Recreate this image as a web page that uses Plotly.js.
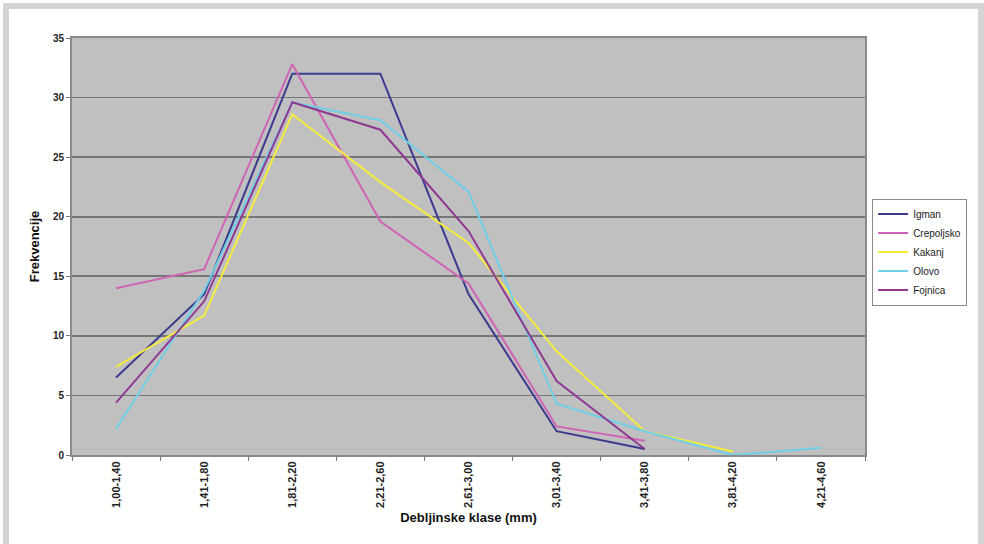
<!DOCTYPE html>
<html>
<head>
<meta charset="utf-8">
<script src="https://cdn.plot.ly/plotly-3.0.1.min.js"></script>
<style>
  html, body { margin: 0; padding: 0; background: #ffffff; }
  #frame { position: absolute; left: 3px; top: 3px; width: 969px; height: 541px;
           border-top: 6px solid #d4d4d4; border-left: 6px solid #d4d4d4; border-right: 6px solid #d4d4d4; }
  #chart { position: absolute; left: 0; top: 0; width: 984px; height: 544px; }
</style>
</head>
<body>
<div id="frame"></div>
<div id="chart"></div>
<script>
const categories = ["1,00-1,40", "1,41-1,80", "1,81-2,20", "2,21-2,60", "2,61-3,00", "3,01-3,40", "3,41-3,80", "3,81-4,20", "4,21-4,60"];
const igman      = [6.5, 13.5, 32.0, 32.0, 13.5, 2.0, 0.5];
const crepoljsko = [14.0, 15.6, 32.8, 19.6, 14.4, 2.4, 1.2];
const kakanj     = [7.4, 11.7, 28.6, 22.9, 17.8, 8.7, 2.0, 0.3];
const olovo      = [2.2, 13.8, 29.6, 28.1, 22.1, 4.3, 2.0, 0.0, 0.6];
const fojnica    = [4.4, 12.9, 29.6, 27.3, 18.8, 6.2, 0.5];
const seriesNames = ["Igman", "Crepoljsko", "Kakanj", "Olovo", "Fojnica"];
const yTicks = [0, 5, 10, 15, 20, 25, 30, 35];

const colors = ["#3b3a8e", "#cf64b4", "#f4ec3c", "#6fcfe6", "#8e3a92"];
const allData = [igman, crepoljsko, kakanj, olovo, fojnica];

const traces = allData.map((vals, i) => ({
  type: "scatter",
  mode: "lines",
  name: seriesNames[i],
  x: categories.slice(0, vals.length),
  y: vals,
  line: { color: colors[i], width: 2 }
}));

const fam = "Liberation Sans, Arial, sans-serif";

const layout = {
  width: 984, height: 544,
  paper_bgcolor: "rgba(0,0,0,0)",
  plot_bgcolor: "#c0c0c0",
  margin: { l: 72, r: 119, t: 38, b: 89 },
  showlegend: true,
  legend: {
    x: 1.009, y: 0.615, xanchor: "left", yanchor: "top",
    bgcolor: "#ffffff", bordercolor: "#8a8a8a", borderwidth: 1,
    font: { family: fam, size: 10, color: "#222" },
    tracegroupgap: 0
  },
  xaxis: {
    type: "category",
    categoryorder: "array", categoryarray: categories,
    range: [-0.5, categories.length - 0.5],
    tickangle: -90,
    tickfont: { family: fam, size: 11, color: "#222", weight: "bold" },
    ticks: "outside", ticklen: 4, tickcolor: "#777", tickson: "boundaries",
    showgrid: false,
    showline: true, linecolor: "#8a8a8a", linewidth: 2, mirror: true,
    zeroline: false,
    title: { text: "Debljinske klase (mm)", font: { family: fam, size: 13, color: "#111", weight: "bold" }, standoff: 6 }
  },
  yaxis: {
    range: [0, 35],
    tickvals: yTicks,
    tickfont: { family: fam, size: 10, color: "#222", weight: "bold" },
    ticks: "outside", ticklen: 4, tickcolor: "#777",
    showgrid: true, gridcolor: "#767676", gridwidth: 1.6,
    showline: true, linecolor: "#8a8a8a", linewidth: 2, mirror: true,
    zeroline: false,
    title: { text: "Frekvencije", font: { family: fam, size: 13, color: "#111", weight: "bold" }, standoff: 10 }
  }
};

Plotly.newPlot("chart", traces, layout, { displayModeBar: false, staticPlot: true });
</script>
</body>
</html>
